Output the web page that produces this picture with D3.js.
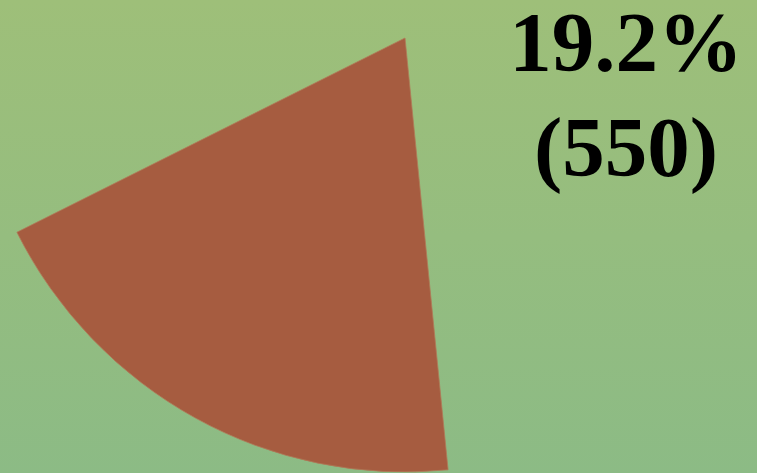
<!DOCTYPE html>
<html><head><meta charset="utf-8">
<script src="https://cdn.jsdelivr.net/npm/d3@7"></script>
<style>html,body{margin:0;padding:0;overflow:hidden;background:#96bd80}</style>
</head><body>
<svg id="chart" width="757" height="473"></svg>
<script>
const categories = ["Selected", "Other"];
const values = [550, 2315];
const labels = ["19.2%", "(550)"];

const W = 757, H = 473;
const svg = d3.select("#chart");
const defs = svg.append("defs");
const grad = defs.append("linearGradient").attr("id", "bg").attr("x1", 0).attr("y1", 0).attr("x2", 0).attr("y2", 1);
grad.append("stop").attr("offset", "0%").attr("stop-color", "#9ebf79");
grad.append("stop").attr("offset", "100%").attr("stop-color", "#8cbb85");
svg.append("rect").attr("width", W).attr("height", H).attr("fill", "url(#bg)");

const cx = 405, cy = 38, R = 434;
const startDeg = 174.3;
const pie = d3.pie().sort(null).value(d => d)
  .startAngle(startDeg * Math.PI / 180)
  .endAngle((startDeg + 360) * Math.PI / 180);
const arcs = pie(values);
const arc = d3.arc().innerRadius(0).outerRadius(R);
const colors = d3.scaleOrdinal().domain(categories).range(["#a65c40", "none"]);

svg.append("g").attr("transform", `translate(${cx},${cy})`)
  .selectAll("path").data(arcs).join("path")
  .attr("d", arc)
  .attr("fill", (d, i) => colors(categories[i]))
  .attr("stroke", (d, i) => i === 0 ? "#b07a58" : "none")
  .attr("stroke-width", 0.8);

const t = svg.append("text")
  .attr("text-anchor", "middle")
  .attr("font-family", "'Liberation Serif','Times New Roman',serif")
  .attr("font-weight", "bold")
  .attr("font-size", 85)
  .attr("fill", "#000");
t.append("tspan").attr("x", 626).attr("y", 71).text(labels[0]);
t.append("tspan").attr("x", 626).attr("y", 176).text(labels[1]);
</script>
</body></html>
